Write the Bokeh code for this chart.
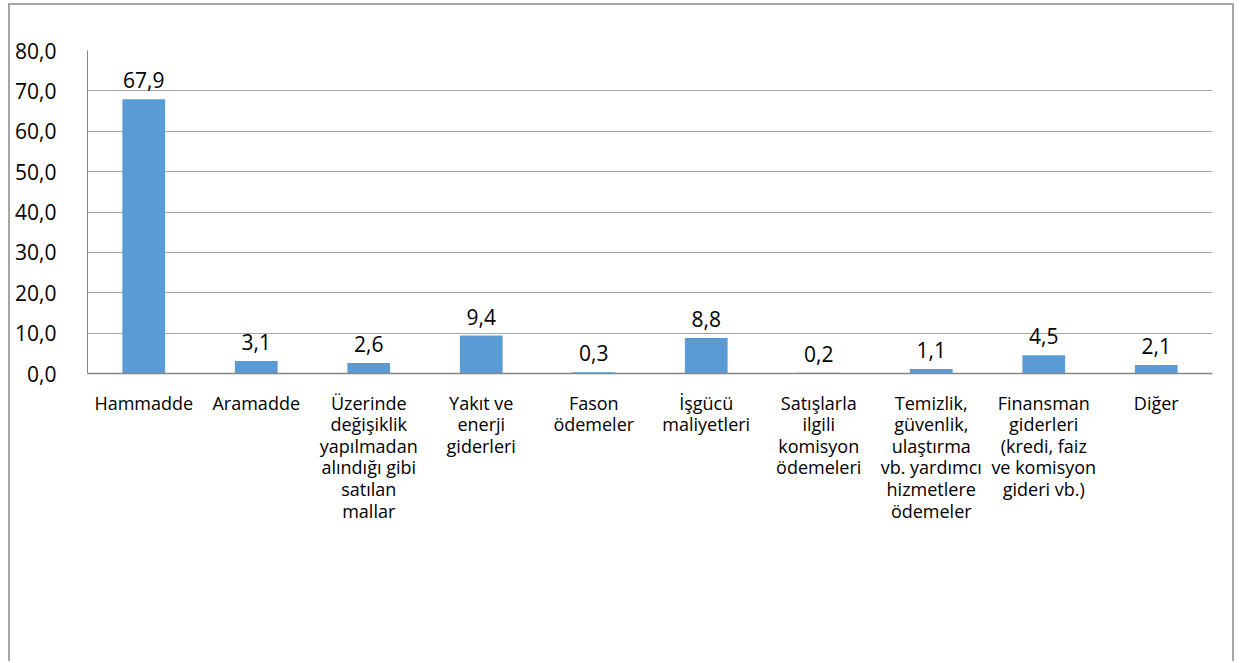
from bokeh.plotting import figure
from bokeh.models import FactorRange, Range1d, FixedTicker, ColumnDataSource
from bokeh.core.properties import value
from bokeh.embed import file_html
from bokeh.resources import INLINE

categories = [
    "Hammadde",
    "Aramadde",
    "Üzerinde\ndeğişiklik\nyapılmadan\nalındığı gibi\nsatılan\nmallar",
    "Yakıt ve\nenerji\ngiderleri",
    "Fason\nödemeler",
    "İşgücü\nmaliyetleri",
    "Satışlarla\nilgili\nkomisyon\nödemeleri",
    "Temizlik,\ngüvenlik,\nulaştırma\nvb. yardımcı\nhizmetlere\nödemeler",
    "Finansman\ngiderleri\n(kredi, faiz\nve komisyon\ngideri vb.)",
    "Diğer",
]
values = [67.9, 3.1, 2.6, 9.4, 0.3, 8.8, 0.2, 1.1, 4.5, 2.1]
y_ticks = [0, 10, 20, 30, 40, 50, 60, 70, 80]
y_tick_labels = ["0,0", "10,0", "20,0", "30,0", "40,0", "50,0", "60,0", "70,0", "80,0"]

FONT = "Open Sans"

src = ColumnDataSource(dict(
    x=categories,
    top=values,
    lbl=[f"{v:.1f}".replace(".", ",") for v in values],
))

p = figure(
    x_range=FactorRange(*categories),
    y_range=Range1d(0, 80),
    width=1226, height=658,
    output_backend="svg", toolbar_location=None,
    min_border_left=77, min_border_right=24, min_border_top=45, min_border_bottom=290,
)
p.styles = {
    "margin-top": "3px",
    "margin-left": "8px",
    "border-top": "2px solid #a6a6a6",
    "border-left": "2px solid #a6a6a6",
    "border-right": "2px solid #a6a6a6",
}
p.outline_line_color = None
p.background_fill_color = "white"
p.border_fill_color = "white"

p.vbar(x="x", top="top", width=0.38, bottom=0, source=src,
       fill_color="#5b9bd5", line_color=None)
p.text(x="x", y="top", text="lbl", source=src, y_offset=-19,
       text_align="center", text_baseline="alphabetic",
       text_font=value(FONT), text_font_size="21px", text_color="#000000")

p.xgrid.grid_line_color = None
p.ygrid.grid_line_color = "#a6a6a6"
p.ygrid.grid_line_width = 1
p.yaxis.ticker = FixedTicker(ticks=y_ticks)
p.yaxis.major_label_overrides = {t: l for t, l in zip(y_ticks, y_tick_labels)}
p.yaxis.major_tick_line_color = None
p.yaxis.minor_tick_line_color = None
p.yaxis.axis_line_color = "#868686"
p.yaxis.major_label_standoff = 25
p.yaxis.major_label_text_font = FONT
p.yaxis.major_label_text_font_size = "21px"
p.yaxis.major_label_text_color = "#000000"

p.xaxis.major_tick_line_color = None
p.xaxis.axis_line_color = "#868686"
p.xaxis.axis_line_width = 1.5
p.xaxis.major_label_standoff = 11
p.xaxis.major_label_text_font = FONT
p.xaxis.major_label_text_font_size = "18px"
p.xaxis.major_label_text_line_height = 0.9
p.xaxis.major_label_text_color = "#000000"
p.xaxis.major_label_orientation = "horizontal"

open("out.html", "w").write(file_html(p, INLINE))
